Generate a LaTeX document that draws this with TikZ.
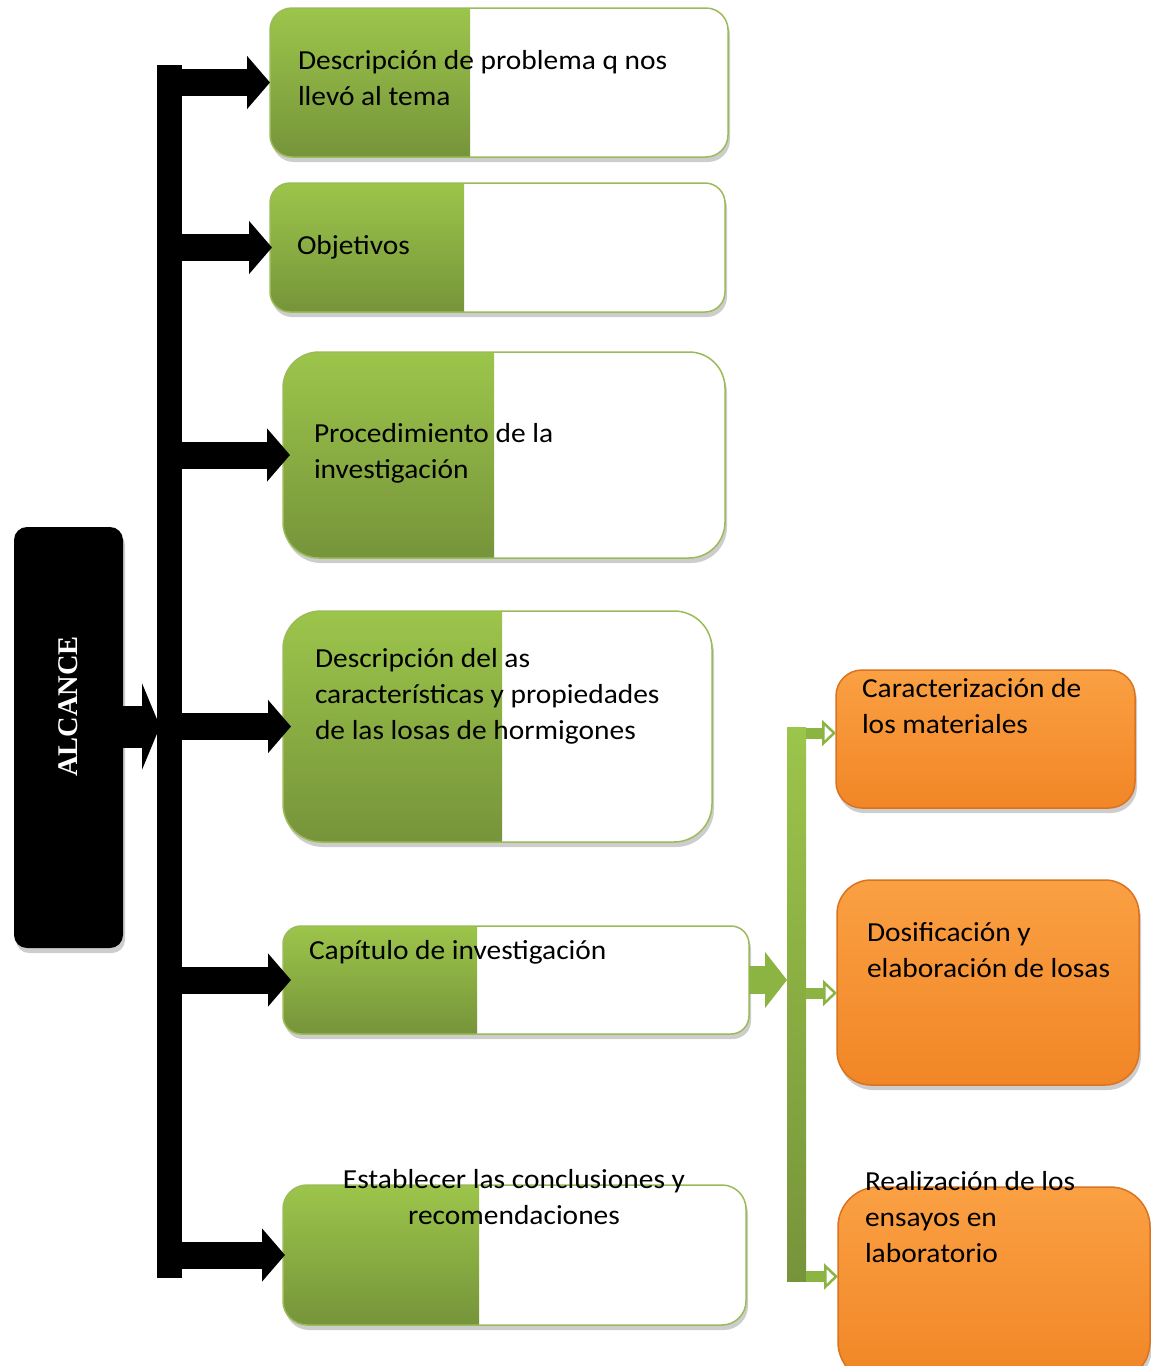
\documentclass[tikz,border=0pt]{standalone}
\usepackage{fontspec}
\setmainfont{Carlito}[FakeStretch=1.07]
\newfontfamily\headfont{Liberation Serif}
\usetikzlibrary{arrows.meta,shadows}

\definecolor{gtop}{HTML}{9CC54B}
\definecolor{gbot}{HTML}{76943A}
\definecolor{gline}{HTML}{9BBB59}
\definecolor{otop}{HTML}{FAA043}
\definecolor{obot}{HTML}{F18626}
\definecolor{oline}{HTML}{D9731F}
\definecolor{garrow}{HTML}{8BB443}

\begin{document}
\begin{tikzpicture}[x=1pt,y=-1pt,
  every node/.style={inner sep=0pt, outer sep=0pt},
  softshadow/.style={drop shadow={shadow xshift=2pt, shadow yshift=-5pt, opacity=0.28, fill=black!70}},
  gbox/.style={draw=gline, line width=1.5pt, fill=white, softshadow, anchor=north west,
    path picture={\shade[sharp corners, top color=gtop, bottom color=gbot]
      (path picture bounding box.north west) rectangle ([xshift=#1]path picture bounding box.south west);}},
  obox/.style={draw=oline, line width=1.5pt, top color=otop, bottom color=obot, softshadow, anchor=north west},
  txt/.style={font=\fontsize{27.5}{36}\selectfont, align=left, anchor=north west},
  barrow/.style={black, line width=27pt, -{Triangle[width=52pt,length=23pt]}},
  mainarrow/.style={black, line width=42pt, -{Triangle[width=86pt,length=18pt]}},
  garrowbig/.style={garrow, line width=28pt, -{Triangle[width=55pt,length=22pt]}},
  garrowsmall/.style={garrow, line width=11pt, -{Triangle[width=26pt,length=14pt,fill=white,line width'=2.5pt]}}
]
\useasboundingbox (0,0) rectangle (1151,1366);
\clip (0,0) rectangle (1151,1366);

% title block
\node[fill=black, rounded corners=13pt, minimum width=109pt, minimum height=421pt,
  anchor=north west, softshadow] (alc) at (14,527) {};
\node[rotate=90, text=white, font=\headfont\bfseries\fontsize{28.5}{34}\selectfont]
  (alct) at ([yshift=31pt]alc.center) {ALCANCE};

% black spine
\node[fill=black, minimum width=25pt, minimum height=1213pt, anchor=north west] (bar) at (157,65) {};

% green topic boxes
\node[gbox=200pt, rounded corners=22pt, minimum width=458pt, minimum height=149pt] (b1) at (270,8) {};
\node[gbox=194pt, rounded corners=20pt, minimum width=455pt, minimum height=129pt] (b2) at (270,183) {};
\node[gbox=211pt, rounded corners=36pt, minimum width=442pt, minimum height=206pt] (b3) at (283,352) {};
\node[gbox=219pt, rounded corners=38pt, minimum width=429pt, minimum height=231pt] (b4) at (283,611) {};
\node[gbox=194pt, rounded corners=18pt, minimum width=466pt, minimum height=108pt] (b5) at (283,926) {};
\node[gbox=196pt, rounded corners=24pt, minimum width=463pt, minimum height=140pt] (b6) at (283,1185) {};

% orange sub-boxes
\node[obox, rounded corners=26pt, minimum width=299pt, minimum height=138pt] (o1) at (836,670) {};
\node[obox, rounded corners=34pt, minimum width=302pt, minimum height=205pt] (o2) at (837,880) {};
\node[obox, rounded corners=40pt, minimum width=312pt, minimum height=195pt] (o3) at (838,1187) {};

% labels
\node[txt] (t1) at (298,43.8) {\strut Descripción de problema q nos\\llevó al tema};
\node[txt] (t2) at (297,228.8) {\strut Objetivos};
\node[txt] (t3) at (314,416.8) {\strut Procedimiento de la\\investigación};
\node[txt] (t4) at (315,641.8) {\strut Descripción del as\\características y propiedades\\de las losas de hormigones};
\node[txt] (t5) at (309,933.8) {\strut Capítulo de investigación};
\node[txt, align=center, anchor=north] (t6) at (514,1162.8) {\strut Establecer las conclusiones y\\recomendaciones};
\node[txt] (u1) at (862,671.8) {\strut Caracterización de\\los materiales};
\node[txt] (u2) at (867,915.8) {\strut Dosificación y\\elaboración de losas};
\node[txt] (u3) at (865,1164.8) {\strut Realización de los\\ensayos en\\laboratorio};

% black connectors
\draw[mainarrow, shorten >=-3pt] (alc.east |- b4.west) -- (bar.west |- b4.west);
\draw[barrow] (bar.east |- b1.west) -- (b1.west);
\draw[barrow, shorten >=-2pt] (bar.east |- b2.west) -- (b2.west);
\draw[barrow, shorten >=-7pt] (bar.east |- b3.west) -- (b3.west);
\draw[barrow, shorten >=-8pt] (bar.east |- b4.west) -- (b4.west);
\draw[barrow, shorten >=-8pt] (bar.east |- b5.west) -- (b5.west);
\draw[barrow, shorten >=-2pt] (bar.east |- b6.west) -- (b6.west);

% green branch
\node[top color=gtop, bottom color=gbot, minimum width=19pt, minimum height=554pt, anchor=north west] (gbar) at (787,727) {};
\draw[garrowbig, shorten <=4pt] ([xshift=-4pt]b5.east) -- (gbar.west |- b5.east);
\draw[garrowsmall] ([yshift=6pt]gbar.east |- o1.west) -- ([yshift=6pt]o1.west);
\draw[garrowsmall] ([yshift=-10.5pt]gbar.east |- o2.west) -- ([yshift=-10.5pt]o2.west);
\draw[garrowsmall] ([yshift=8pt]gbar.east |- o3.west) -- ([yshift=8pt]o3.west);
\end{tikzpicture}
\end{document}
